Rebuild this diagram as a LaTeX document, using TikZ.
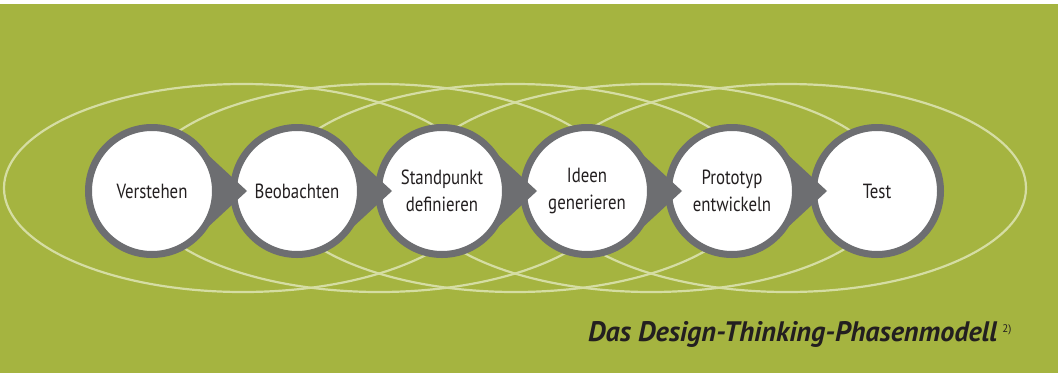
\documentclass[tikz,border=0pt]{standalone}
\usepackage{fontspec}
\setmainfont{PT Sans}
\newfontfamily\labfont[FakeStretch=0.82]{PT Sans}
\usetikzlibrary{calc}
\definecolor{bggreen}{HTML}{A5B440}
\definecolor{ringgrey}{HTML}{6D6E71}
\definecolor{ellcol}{HTML}{D5DDA3}
\definecolor{txt}{HTML}{231F20}
\pgfdeclarelayer{bg}
\pgfdeclarelayer{links}
\pgfsetlayers{bg,links,main}
\begin{document}
\begin{tikzpicture}[x=1pt,y=-1pt,
  phase/.style={circle, draw=ringgrey, line width=7pt, fill=white,
    minimum size=127pt, inner sep=0pt, align=center,
    font=\labfont\fontsize{20.5}{27}\selectfont, text=txt},
  orbit/.style={draw=ellcol, line width=2.2pt},
  link/.style={fill=ringgrey},
  caption/.style={anchor=base west, inner sep=0pt, text=txt,
    font=\fontsize{28.2}{30}\selectfont\bfseries\itshape},
  refmark/.style={anchor=base west, inner sep=0pt, text=txt,
    font=\fontsize{11}{12}\selectfont}]
\useasboundingbox (0,0) rectangle (1058,373);
\begin{pgfonlayer}{bg}
  \fill[bggreen] (0,4) rectangle (1058,373);
  \foreach \cx in {243,379,515,651,787}{
    \draw[orbit] (\cx,188) ellipse [x radius=239pt, y radius=104pt];
  }
\end{pgfonlayer}

\node[phase] (v1) at (152,191) {Verstehen};
\node[phase] (v2) at (297,191) {Beobachten};
\node[phase] (v3) at (442,191) {Standpunkt\\definieren};
\node[phase] (v4) at (587,191) {Ideen\\generieren};
\node[phase] (v5) at (732,191) {Prototyp\\entwickeln};
\node[phase] (v6) at (877,191) {Test};

\begin{pgfonlayer}{links}
  \foreach \a/\b in {v1/v2,v2/v3,v3/v4,v4/v5,v5/v6}{
    \fill[link] (\a.63) -- ($(\b.center)+(-50pt,0pt)$) -- (\a.-63) -- cycle;
  }
\end{pgfonlayer}
\foreach \a/\b in {v1/v2,v2/v3,v3/v4,v4/v5,v5/v6}{
  \begin{scope}
    \clip (\b.center) circle [radius=64pt];
    \fill[link] (\a.63) -- ($(\b.center)+(-50pt,0pt)$) -- (\a.-63) -- cycle;
  \end{scope}
}

\node[caption] (cap) at (588,341) {Das Design-Thinking-Phasenmodell};
\node[refmark] (ref) at ($(cap.base east)+(5pt,9pt)$) {2)};
\end{tikzpicture}
\end{document}
